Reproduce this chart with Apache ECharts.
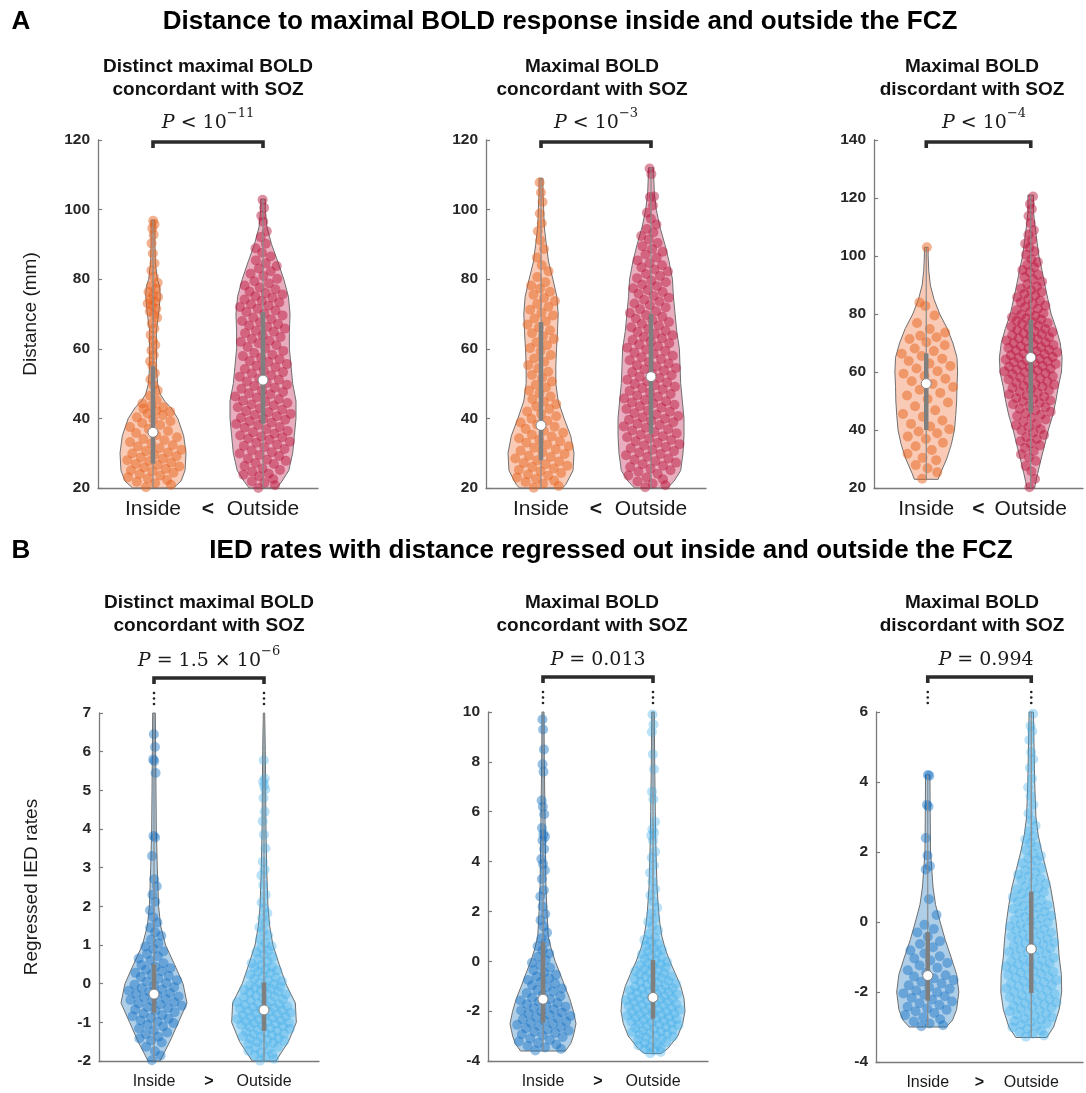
<!DOCTYPE html>
<html><head><meta charset="utf-8">
<script src="https://cdn.jsdelivr.net/npm/echarts/dist/echarts.min.js"></script>
<style>html,body{margin:0;padding:0;background:#fff}#c{width:1086px;height:1093px}</style>
</head><body><div id="c"></div>
<script>
// ---------------- DATA ----------------
const xCategories = ['Inside', 'Outside'];
const relationsA = '<';
const relationsB = '>';
const subTitles = ['Distinct maximal BOLD\nconcordant with SOZ', 'Maximal BOLD\nconcordant with SOZ', 'Maximal BOLD\ndiscordant with SOZ'];
const pLabels = ['{i|P}{n| < 10}{s|−11}', '{i|P}{n| < 10}{s|−3}', '{i|P}{n| < 10}{s|−4}',
                 '{i|P}{n| = 1.5 × 10}{s|−6}', '{i|P}{n| = 0.013}', '{i|P}{n| = 0.994}'];
const yTicksA1 = [20, 120, 20], yTicksA2 = [20, 120, 20], yTicksA3 = [20, 140, 20];
const yTicksB1 = [-2, 7, 1], yTicksB2 = [-4, 10, 2], yTicksB3 = [-4, 6, 2];

// violin outlines: value levels and relative density (half width)
const a1InY = [20, 22, 25, 30, 35, 40, 43, 45, 47, 50, 55, 60, 65, 70, 75, 78, 80, 85, 90, 97];
const a1InW = [0.62, 0.85, 0.97, 1.0, 0.93, 0.75, 0.55, 0.35, 0.22, 0.14, 0.1, 0.11, 0.1, 0.17, 0.22, 0.2, 0.13, 0.07, 0.06, 0.06];
const a1OutY = [20, 22, 25, 30, 35, 40, 45, 50, 55, 60, 65, 70, 75, 80, 85, 90, 95, 100, 103];
const a1OutW = [0.42, 0.58, 0.78, 0.9, 0.95, 1.0, 1.0, 0.9, 0.85, 0.8, 0.8, 0.82, 0.77, 0.63, 0.45, 0.26, 0.12, 0.07, 0.07];
const a2InY = [20, 21, 25, 30, 35, 40, 45, 50, 55, 60, 65, 70, 75, 80, 85, 90, 95, 100, 105, 109];
const a2InW = [0.65, 0.75, 0.97, 1.0, 0.9, 0.7, 0.52, 0.45, 0.45, 0.47, 0.5, 0.52, 0.48, 0.36, 0.23, 0.16, 0.1, 0.08, 0.06, 0.06];
const a2OutY = [20, 22, 25, 30, 35, 40, 45, 50, 55, 60, 65, 70, 75, 80, 85, 90, 95, 100, 105, 110, 112];
const a2OutW = [0.5, 0.7, 0.9, 0.97, 1.0, 1.0, 0.95, 0.9, 0.88, 0.86, 0.78, 0.73, 0.68, 0.65, 0.55, 0.42, 0.27, 0.16, 0.1, 0.08, 0.08];
const a3InY = [23, 25, 30, 35, 40, 45, 50, 55, 60, 65, 70, 75, 80, 85, 90, 95, 100, 103];
const a3InW = [0.38, 0.45, 0.65, 0.8, 0.9, 0.94, 0.97, 0.98, 1.0, 0.98, 0.85, 0.67, 0.43, 0.25, 0.13, 0.08, 0.06, 0.06];
const a3OutY = [20, 25, 30, 35, 40, 45, 50, 55, 60, 65, 70, 75, 80, 85, 90, 95, 100, 105, 110, 115, 121];
const a3OutW = [0.12, 0.22, 0.33, 0.45, 0.56, 0.7, 0.8, 0.88, 0.98, 1.0, 0.94, 0.81, 0.65, 0.55, 0.45, 0.36, 0.26, 0.2, 0.14, 0.09, 0.09];
const b1InY = [-2, -1.5, -1, -0.5, 0, 0.5, 1, 1.5, 2, 3, 4, 5, 6, 7];
const b1InW = [0.18, 0.48, 0.74, 1.0, 0.88, 0.62, 0.35, 0.2, 0.14, 0.1, 0.07, 0.06, 0.05, 0.04];
const b1OutY = [-2, -1.5, -1, -0.5, 0, 0.5, 1, 1.5, 2, 3, 4, 5, 6, 7];
const b1OutW = [0.36, 0.74, 0.98, 0.95, 0.66, 0.46, 0.27, 0.17, 0.12, 0.08, 0.06, 0.05, 0.04, 0.02];
const b2InY = [-3.6, -3.3, -3, -2.5, -2, -1.5, -1, -0.5, 0, 0.5, 1, 2, 3, 4, 5, 6, 8, 10];
const b2InW = [0.68, 0.84, 0.92, 1.0, 0.92, 0.81, 0.66, 0.52, 0.37, 0.25, 0.16, 0.12, 0.09, 0.08, 0.07, 0.06, 0.04, 0.03];
const b2OutY = [-3.7, -3.5, -3, -2.5, -2, -1.5, -1, -0.5, 0, 0.5, 1, 1.5, 2, 3, 4, 5, 6, 8, 10];
const b2OutW = [0.25, 0.45, 0.75, 0.9, 0.97, 0.94, 0.84, 0.68, 0.51, 0.37, 0.27, 0.21, 0.17, 0.12, 0.1, 0.08, 0.07, 0.05, 0.04];
const b3InY = [-3, -2.8, -2.5, -2, -1.5, -1, -0.5, 0, 0.5, 1, 1.5, 2, 3, 4.2];
const b3InW = [0.6, 0.8, 0.93, 1.0, 0.93, 0.75, 0.56, 0.4, 0.25, 0.17, 0.13, 0.09, 0.08, 0.07];
const b3OutY = [-3.3, -3, -2.5, -2, -1.5, -1, -0.5, 0, 0.5, 1, 1.5, 2, 2.5, 3, 4, 5, 6];
const b3OutW = [0.5, 0.72, 0.9, 0.98, 0.97, 0.9, 0.86, 0.8, 0.72, 0.62, 0.48, 0.34, 0.22, 0.15, 0.11, 0.09, 0.07];

// box summaries: [min, q1, median, q3, max]
const a1Box = [[20, 27, 36, 55, 97], [20, 38.5, 51, 70.5, 103]];
const a2Box = [[20, 28, 38, 67.7, 109], [20, 35.6, 52, 70, 112]];
const a3Box = [[23, 40, 56, 66.4, 103], [20, 46, 65, 78, 121]];
const b1Box = [[-2, -0.75, -0.27, 0.5, 7], [-2, -1.22, -0.68, 0.03, 7]];
const b2Box = [[-3.6, -2.46, -1.52, 0.77, 10], [-3.7, -2.3, -1.45, 0.05, 10]];
const b3Box = [[-3, -2.25, -1.53, -0.29, 4.2], [-3.3, -2.03, -0.77, 0.87, 6]];

const a1InPts = [20.2,20.9,21.4,21.8,22.3,22.7,23.1,23.6,24,24.4,24.8,25.1,25.5,25.9,26.2,26.6,26.9,27.3,27.7,28,28.4,28.8,29.1,29.5,29.9,30.2,30.6,31,31.4,31.9,32.3,32.8,33.2,33.7,34.1,34.6,35.2,35.8,36.4,37,37.5,38.1,38.7,39.2,39.8,40.3,40.9,41.4,41.9,42.3,42.8,43.2,43.6,44.3,45.2,46.5,48,49.6,51.2,53,55.1,56.4,58.2,59.5,61.1,62.4,64,65.8,67.2,68.9,69.8,70.7,71.5,72.3,73,73.6,74.2,74.9,75.5,76.3,77.2,78.1,79,80.7,82.5,84.6,87.4,90.3,92.8,94.6,95.8,96.8];
const a1OutPts = [20,20.8,21.5,21.9,22.6,23.4,23.8,24.1,24.7,25.2,25.6,26.3,26.9,27.2,27.8,28.1,28.4,29.2,29.5,29.9,30.3,30.8,31.2,31.7,32.1,32.5,33,33.3,33.9,34.2,34.6,34.8,35.1,35.6,36,36.4,36.9,37.3,37.5,38.1,38.4,38.8,39.2,39.6,39.9,40.2,40.6,41,41.3,41.8,42.1,42.5,42.9,43.2,43.7,44,44.4,44.8,45.1,45.5,46,46.3,46.9,47.2,47.6,48,48.5,48.8,49.3,49.7,50.2,50.6,51.1,51.5,52,52.4,52.9,53.3,53.8,54.2,54.7,55.1,55.6,56.2,56.5,57,57.4,57.9,58.3,58.8,59.4,60.1,60.5,61,61.6,62,62.3,62.9,63.4,63.8,64.5,64.9,65.2,65.8,66.3,66.7,67.1,67.6,68,68.5,69,69.6,70.1,70.6,71,71.5,72,72.4,72.8,73.3,73.8,74.2,74.7,75.1,75.6,76,76.5,77.1,77.6,78.2,78.8,79.4,80.1,80.9,81.6,82.3,83.1,83.8,84.6,85.4,86.5,87.6,88.9,90.2,92.1,93.8,96.5,98.2,100.5,102.8];
const a2InPts = [20.1,20.6,21.2,21.7,22.1,22.6,23,23.5,23.9,24.3,24.8,25.2,25.6,26,26.4,26.8,27.2,27.6,28,28.5,28.9,29.3,29.8,30.2,30.7,31.1,31.6,32,32.5,33,33.4,33.9,34.3,34.8,35.3,35.9,36.4,37,37.6,38.2,38.8,39.3,39.9,40.6,41.3,42,42.7,43.4,44.1,44.8,45.5,46.3,47.2,48,48.9,49.7,50.6,51.6,52.5,53.4,54.4,55.3,56.3,57.2,58.2,59.3,60.2,61,61.9,62.8,63.6,64.5,65.3,66.1,67,67.9,68.7,69.6,70.4,71.2,72.1,72.9,73.7,74.6,75.5,76.4,77.3,78.2,79.1,80.6,82.3,84,86.2,88.7,91.2,93.8,96.1,98.9,102.2,104.9,107.8];
const a2OutPts = [20.2,20.8,21.3,21.9,22.5,23,23.6,24.1,24.7,25.1,25.5,26,26.4,26.8,27.3,27.7,28.1,28.5,29,29.4,29.8,30.2,30.6,31,31.4,31.8,32.2,32.6,33,33.4,33.8,34.2,34.6,34.9,35.3,35.7,36.1,36.5,36.9,37.3,37.7,38.1,38.5,38.9,39.3,39.6,39.9,40.3,40.7,41.1,41.5,41.9,42.3,42.7,43.1,43.5,43.9,44.3,44.6,44.9,45.3,45.7,46.2,46.6,47,47.4,47.9,48.3,48.7,49.1,49.5,49.9,50.3,50.7,51.1,51.6,52,52.4,52.8,53.3,53.7,54.1,54.5,54.9,55.3,55.8,56.2,56.7,57.1,57.6,58,58.5,58.9,59.4,59.8,60.3,60.7,61.2,61.6,62.1,62.5,63,63.4,63.9,64.3,64.8,65.2,65.7,66.2,66.7,67.2,67.7,68.2,68.7,69.2,69.7,70.3,70.8,71.4,71.9,72.5,73,73.6,74.1,74.7,75.2,75.8,76.3,76.9,77.4,78,78.5,79.1,79.6,80.3,80.9,81.5,82.2,82.8,83.4,84,84.6,85.4,86.2,87.1,87.9,88.7,89.5,90.4,91.4,92.4,93.4,94.4,95.7,97.4,99.1,101.2,103.6,103.8,110.2,111.8];
const a3InPts = [23.2,25.4,26.8,27.9,29.6,30.4,31.8,33.1,34.4,35.6,36.9,37.8,38.9,39.5,40.3,41.2,42.1,43.3,44.6,45.5,46.8,48.2,49.5,50.7,51.9,52.8,53.9,54.8,55.9,56.8,57.7,58.6,59.4,60.3,61.2,62.1,62.9,63.8,64.6,65.5,66.3,67.2,68.1,69.2,70.3,71.4,72,72.5,73.6,74.8,76.9,79.5,82.8,84,103];
const a3OutPts = [20.3,23.1,25.8,27.6,29.3,30.5,31.6,32.7,33.8,34.7,35.4,36.1,36.9,37.6,38.3,39.1,39.8,40.3,41,41.6,42.2,42.9,43.6,44.2,44.8,45.3,45.8,46.3,46.8,47.3,47.9,48.4,48.9,49.4,49.9,50.2,50.6,51,51.5,51.9,52.3,52.8,53.2,53.6,54.1,54.5,54.9,55.2,55.6,55.9,56.3,56.7,57,57.4,57.8,58.1,58.5,58.9,59.2,59.6,59.9,60.2,60.5,60.8,61.1,61.5,61.8,62.1,62.4,62.8,63.1,63.4,63.7,64,64.3,64.6,64.9,65.2,65.5,65.8,66.1,66.4,66.8,67.1,67.4,67.7,68,68.3,68.6,68.9,69.3,69.6,69.9,70.2,70.6,70.9,71.3,71.6,72,72.3,72.7,73,73.4,73.8,74.1,74.5,74.8,75.2,75.6,76,76.5,76.9,77.3,77.7,78.1,78.5,78.9,79.3,79.7,80.2,80.7,81.3,81.8,82.4,82.9,83.5,84,84.6,85.2,85.8,86.4,87,87.6,88.2,88.8,89.5,90.3,91.1,91.9,92.7,93.5,94.4,95.2,96.1,97,97.9,98.9,100.4,101.6,102.9,104.2,105.6,107.3,108.9,111.4,113.8,116.2,117.9,120.5];
const b1InPts = [-1.98,-1.86,-1.75,-1.63,-1.52,-1.47,-1.42,-1.37,-1.31,-1.26,-1.21,-1.16,-1.11,-1.06,-1.02,-0.98,-0.95,-0.91,-0.88,-0.84,-0.81,-0.77,-0.74,-0.7,-0.67,-0.63,-0.6,-0.57,-0.54,-0.51,-0.48,-0.45,-0.42,-0.39,-0.36,-0.33,-0.3,-0.27,-0.24,-0.21,-0.18,-0.15,-0.12,-0.09,-0.06,-0.03,0.01,0.05,0.09,0.13,0.17,0.2,0.24,0.28,0.32,0.36,0.4,0.44,0.48,0.53,0.59,0.65,0.71,0.77,0.83,0.9,0.96,1.04,1.14,1.24,1.33,1.45,1.58,1.72,1.9,2.12,2.3,2.52,2.7,3.3,3.78,3.82,5.45,5.76,5.8,6.12,6.45];
const b1OutPts = [-1.99,-1.94,-1.9,-1.85,-1.82,-1.78,-1.74,-1.7,-1.66,-1.63,-1.59,-1.56,-1.53,-1.51,-1.48,-1.46,-1.43,-1.41,-1.38,-1.36,-1.33,-1.31,-1.29,-1.26,-1.24,-1.22,-1.19,-1.17,-1.15,-1.12,-1.1,-1.08,-1.06,-1.04,-1.02,-1.01,-0.99,-0.97,-0.95,-0.93,-0.91,-0.89,-0.87,-0.85,-0.83,-0.81,-0.79,-0.77,-0.75,-0.73,-0.71,-0.69,-0.67,-0.65,-0.63,-0.61,-0.59,-0.57,-0.55,-0.53,-0.51,-0.48,-0.46,-0.43,-0.41,-0.38,-0.36,-0.33,-0.31,-0.28,-0.26,-0.23,-0.21,-0.18,-0.16,-0.13,-0.11,-0.08,-0.06,-0.04,-0.01,0.02,0.06,0.09,0.13,0.16,0.2,0.23,0.27,0.3,0.34,0.37,0.41,0.44,0.48,0.53,0.58,0.64,0.69,0.75,0.81,0.86,0.92,0.97,1.05,1.15,1.25,1.36,1.46,1.58,1.7,1.82,1.95,2.1,2.3,2.55,2.8,2.95,3.15,3.5,3.85,4.2,4.45,4.8,5.02,5.12,5.22,5.3,5.78];
const b2InPts = [-3.58,-3.52,-3.46,-3.4,-3.34,-3.28,-3.22,-3.16,-3.1,-3.04,-2.98,-2.93,-2.88,-2.83,-2.79,-2.74,-2.69,-2.64,-2.6,-2.55,-2.51,-2.47,-2.42,-2.38,-2.33,-2.28,-2.24,-2.19,-2.14,-2.1,-2.05,-2.01,-1.97,-1.92,-1.87,-1.82,-1.77,-1.72,-1.67,-1.62,-1.57,-1.52,-1.46,-1.4,-1.33,-1.27,-1.21,-1.15,-1.09,-1.03,-0.96,-0.89,-0.82,-0.75,-0.68,-0.61,-0.54,-0.45,-0.36,-0.26,-0.16,-0.06,0.05,0.18,0.31,0.44,0.6,0.75,0.92,1.15,1.4,1.65,1.9,2.2,2.6,2.85,3.3,3.65,3.9,4.1,4.5,4.85,5,5.1,5.35,5.9,6.2,6.45,7.6,7.9,8.5,9.3,9.7];
const b2OutPts = [-3.69,-3.64,-3.58,-3.53,-3.47,-3.43,-3.38,-3.34,-3.29,-3.24,-3.2,-3.15,-3.11,-3.06,-3.02,-2.98,-2.95,-2.91,-2.88,-2.84,-2.81,-2.78,-2.74,-2.71,-2.67,-2.64,-2.6,-2.57,-2.54,-2.51,-2.48,-2.45,-2.42,-2.39,-2.36,-2.33,-2.3,-2.27,-2.24,-2.21,-2.18,-2.15,-2.12,-2.09,-2.06,-2.03,-2.01,-1.98,-1.95,-1.92,-1.89,-1.86,-1.83,-1.8,-1.77,-1.74,-1.71,-1.68,-1.65,-1.62,-1.59,-1.56,-1.53,-1.51,-1.48,-1.45,-1.42,-1.39,-1.35,-1.32,-1.29,-1.26,-1.23,-1.2,-1.17,-1.14,-1.11,-1.08,-1.05,-1.02,-0.98,-0.94,-0.9,-0.86,-0.83,-0.79,-0.75,-0.71,-0.67,-0.63,-0.6,-0.56,-0.52,-0.48,-0.43,-0.39,-0.34,-0.3,-0.25,-0.21,-0.16,-0.12,-0.07,-0.03,0.03,0.09,0.15,0.21,0.28,0.34,0.4,0.46,0.54,0.62,0.7,0.78,0.86,0.95,1.08,1.25,1.42,1.58,1.75,1.92,2.15,2.4,2.65,2.9,3.2,3.55,3.85,4.15,4.4,4.85,5.05,5.15,5.3,5.6,6.5,6.8,7.7,8.3,9.2,9.5,9.9];
const b3InPts = [-2.98,-2.95,-2.9,-2.84,-2.78,-2.72,-2.66,-2.6,-2.55,-2.51,-2.47,-2.42,-2.37,-2.32,-2.27,-2.22,-2.17,-2.12,-2.08,-2.04,-2.01,-1.96,-1.91,-1.86,-1.81,-1.76,-1.71,-1.66,-1.61,-1.56,-1.52,-1.45,-1.38,-1.31,-1.24,-1.17,-1.1,-1.04,-0.98,-0.9,-0.81,-0.72,-0.63,-0.55,-0.42,-0.3,-0.2,-0.08,0.2,0.65,1.5,1.6,1.9,2.4,3.3,3.35,4.18,4.2];
const b3OutPts = [-3.28,-3.24,-3.19,-3.14,-3.1,-3.05,-3.01,-2.97,-2.93,-2.9,-2.86,-2.83,-2.79,-2.76,-2.72,-2.69,-2.65,-2.62,-2.58,-2.55,-2.52,-2.48,-2.45,-2.42,-2.39,-2.36,-2.33,-2.3,-2.27,-2.24,-2.21,-2.18,-2.15,-2.12,-2.09,-2.06,-2.02,-1.99,-1.96,-1.93,-1.9,-1.87,-1.84,-1.81,-1.78,-1.75,-1.72,-1.69,-1.66,-1.63,-1.6,-1.57,-1.54,-1.51,-1.48,-1.45,-1.42,-1.39,-1.36,-1.33,-1.3,-1.27,-1.24,-1.21,-1.18,-1.15,-1.12,-1.09,-1.06,-1.02,-0.98,-0.95,-0.91,-0.88,-0.85,-0.81,-0.78,-0.75,-0.71,-0.68,-0.64,-0.61,-0.58,-0.54,-0.51,-0.48,-0.44,-0.41,-0.37,-0.34,-0.3,-0.27,-0.23,-0.2,-0.16,-0.13,-0.09,-0.06,-0.02,0.02,0.06,0.1,0.14,0.18,0.21,0.25,0.29,0.33,0.37,0.41,0.45,0.48,0.53,0.58,0.62,0.67,0.71,0.76,0.8,0.85,0.89,0.94,0.98,1.03,1.09,1.14,1.2,1.25,1.31,1.36,1.42,1.47,1.54,1.61,1.68,1.75,1.82,1.89,1.96,2.06,2.16,2.26,2.36,2.46,2.6,2.75,2.9,3.1,3.35,3.6,3.85,4.1,4.4,4.65,4.85,5.2,5.45,5.6,5.95];

// ---------------- LAYOUT / STYLE ----------------
const SANS = '"Liberation Sans", Arial, sans-serif';
const SERIF = '"DejaVu Serif", "Liberation Serif", serif';
const HW = 0.3;
const styleA = {inDot: 'rgba(230,98,28,0.62)', inFill: 'rgba(241,140,95,0.45)', outDot: 'rgba(184,16,56,0.58)', outFill: 'rgba(200,60,100,0.42)'};
const styleB = {inDot: 'rgba(16,110,194,0.55)', inFill: 'rgba(65,140,202,0.42)', outDot: 'rgba(62,172,232,0.45)', outFill: 'rgba(85,180,232,0.45)'};

const panels = [
  {grid: {left: 98, top: 140, width: 220, height: 348}, yt: yTicksA1, kind: 'A', name: 'Distance (mm)', v: [a1InY, a1InW, a1OutY, a1OutW], pts: [a1InPts, a1OutPts], box: a1Box, titleX: 208},
  {grid: {left: 486, top: 140, width: 220, height: 348}, yt: yTicksA2, kind: 'A', name: '', v: [a2InY, a2InW, a2OutY, a2OutW], pts: [a2InPts, a2OutPts], box: a2Box, titleX: 592},
  {grid: {left: 874, top: 140, width: 220, height: 348}, yt: yTicksA3, kind: 'A', name: '', v: [a3InY, a3InW, a3OutY, a3OutW], pts: [a3InPts, a3OutPts], box: a3Box, titleX: 972},
  {grid: {left: 99, top: 713, width: 220, height: 348}, yt: yTicksB1, kind: 'B', name: 'Regressed IED rates', v: [b1InY, b1InW, b1OutY, b1OutW], pts: [b1InPts, b1OutPts], box: b1Box, titleX: 209},
  {grid: {left: 488, top: 712, width: 220, height: 349}, yt: yTicksB2, kind: 'B', name: '', v: [b2InY, b2InW, b2OutY, b2OutW], pts: [b2InPts, b2OutPts], box: b2Box, titleX: 592},
  {grid: {left: 876, top: 712, width: 220, height: 350}, yt: yTicksB3, kind: 'B', name: '', v: [b3InY, b3InW, b3OutY, b3OutW], pts: [b3InPts, b3OutPts], box: b3Box, titleX: 972}
];

function halfAt(ys, ws, val) {
  if (val <= ys[0]) return ws[0];
  for (let i = 1; i < ys.length; i++) {
    if (val <= ys[i]) { const t = (val - ys[i - 1]) / (ys[i] - ys[i - 1]); return ws[i - 1] + t * (ws[i] - ws[i - 1]); }
  }
  return ws[ws.length - 1];
}
function jitterPoints(pts, ys, ws, c, ymax) {
  // deterministic spread across the violin width (golden-ratio sequence)
  return pts.filter(v => v <= ymax).map((v, i) => {
    const u = 2 * ((i * 0.6180339887 + 0.31) % 1) - 1;
    return [c + u * 0.88 * HW * halfAt(ys, ws, v), v];
  });
}

const grids = [], xAxes = [], yAxes = [], series = [], graphics = [];
panels.forEach((p, k) => {
  const isA = p.kind === 'A';
  const st = isA ? styleA : styleB;
  const rel = isA ? relationsA : relationsB;
  grids.push(Object.assign({containLabel: false}, p.grid));
  xAxes.push({
    gridIndex: k, type: 'value', min: 0.5, max: 2.5, interval: 0.5,
    axisLine: {show: true, onZero: false, lineStyle: {color: '#7a7a7a', width: 1.3}},
    axisTick: {show: false}, splitLine: {show: false},
    axisLabel: {
      show: true, showMinLabel: true, showMaxLabel: true, hideOverlap: false,
      margin: isA ? 11 : 13, fontFamily: SANS, fontSize: isA ? 21 : 16, color: '#1a1a1a',
      formatter: v => v === 1 ? xCategories[0] : v === 2 ? xCategories[1] : v === 1.5 ? '{r|' + rel + '}' : '',
      rich: {r: {fontFamily: SANS, fontWeight: 'bold', fontSize: isA ? 21 : 16, color: '#1a1a1a'}}
    }
  });
  yAxes.push({
    gridIndex: k, type: 'value', min: p.yt[0], max: p.yt[1], interval: p.yt[2],
    axisLine: {show: true, onZero: false, lineStyle: {color: '#7a7a7a', width: 1.3}},
    axisTick: {show: true, inside: true, length: 4, lineStyle: {color: '#7a7a7a', width: 1.2}},
    splitLine: {show: false},
    axisLabel: {margin: 8, fontFamily: SANS, fontWeight: 'bold', fontSize: 15.5, color: '#262626', hideOverlap: false},
    name: p.name, nameLocation: 'middle', nameGap: 58, nameRotate: 90,
    nameTextStyle: {fontFamily: SANS, fontSize: 19, color: '#1a1a1a'}
  });
  const [inY, inW, outY, outW] = p.v;
  const ymax = p.yt[1];
  [[1, inY, inW, st.inFill], [2, outY, outW, st.outFill]].forEach(([c, ys, ws, fill]) => {
    series.push({
      type: 'custom', xAxisIndex: k, yAxisIndex: k, silent: true, z: 1,
      data: [[c, ys[0]]],
      renderItem: (params, api) => {
        const pts = [];
        for (let i = 0; i < ys.length; i++) pts.push(api.coord([c + ws[i] * HW, ys[i]]));
        for (let i = ys.length - 1; i >= 0; i--) pts.push(api.coord([c - ws[i] * HW, ys[i]]));
        return {type: 'polygon', shape: {points: pts}, style: {fill: fill, stroke: '#6f6f6f', lineWidth: 1}};
      }
    });
  });
  series.push({type: 'scatter', xAxisIndex: k, yAxisIndex: k, silent: true, z: 2, symbolSize: 10,
    itemStyle: {color: st.inDot}, data: jitterPoints(p.pts[0], inY, inW, 1, ymax)});
  series.push({type: 'scatter', xAxisIndex: k, yAxisIndex: k, silent: true, z: 2, symbolSize: 10,
    itemStyle: {color: st.outDot}, data: jitterPoints(p.pts[1], outY, outW, 2, ymax)});
  // box: whisker line, IQR bar, median dot
  series.push({
    type: 'custom', xAxisIndex: k, yAxisIndex: k, silent: true, z: 3,
    data: [[1, p.box[0][2]], [2, p.box[1][2]]],
    renderItem: (params, api) => {
      const c = params.dataIndex + 1;
      const b = p.box[params.dataIndex];
      const pMin = api.coord([c, Math.max(b[0], p.yt[0])]), pMax = api.coord([c, Math.min(b[4], ymax)]);
      const pQ1 = api.coord([c, b[1]]), pQ3 = api.coord([c, b[3]]), pMed = api.coord([c, b[2]]);
      return {type: 'group', children: [
        {type: 'line', shape: {x1: pMin[0], y1: pMin[1], x2: pMax[0], y2: pMax[1]}, style: {stroke: '#8a8a8a', lineWidth: 1.2}},
        {type: 'line', shape: {x1: pQ1[0], y1: pQ1[1], x2: pQ3[0], y2: pQ3[1]}, style: {stroke: '#7f7f7f', lineWidth: 4.5}},
        {type: 'circle', shape: {cx: pMed[0], cy: pMed[1], r: 5}, style: {fill: '#ffffff', stroke: '#808080', lineWidth: 1}}
      ]};
    }
  });
  // significance bracket
  series.push({
    type: 'custom', xAxisIndex: k, yAxisIndex: k, silent: true, z: 4, clip: false,
    data: [[1.5, ymax]],
    renderItem: (params, api) => {
      const a = api.coord([1, ymax]), b = api.coord([2, ymax]);
      const yb = isA ? a[1] + 2 : a[1] - 35;
      const leg = 6;
      const children = [{type: 'polyline', shape: {points: [[a[0], yb + leg], [a[0], yb], [b[0], yb], [b[0], yb + leg]]},
        style: {stroke: '#2b2b2b', lineWidth: 3.6, fill: null, lineJoin: 'miter', lineCap: 'butt'}}];
      if (!isA) {
        [a[0], b[0]].forEach(x => [-20, -14.5, -9].forEach(dy => children.push(
          {type: 'circle', shape: {cx: x, cy: a[1] + dy, r: 1.3}, style: {fill: '#222'}})));
      }
      return {type: 'group', children: children};
    }
  });
  // subtitle and P label
  const ty = isA ? 78 : 614.5;
  graphics.push({type: 'text', x: p.titleX, y: ty, style: {text: subTitles[k % 3], font: 'bold 19px ' + SANS, fill: '#111',
    align: 'center', verticalAlign: 'middle', textAlign: 'center', textVerticalAlign: 'middle', lineHeight: 23}});
  const cx = p.grid.left + p.grid.width * 0.5;
  graphics.push({type: 'text', x: cx, y: p.grid.top + (isA ? -20 : -55), style: {
    text: pLabels[k], align: 'center', verticalAlign: 'middle', textAlign: 'center', textVerticalAlign: 'middle',
    rich: {
      i: {fontFamily: SERIF, fontStyle: 'italic', fontSize: 19, lineHeight: 26, fill: '#1a1a1a', verticalAlign: 'bottom'},
      n: {fontFamily: SERIF, fontSize: 19, lineHeight: 26, fill: '#1a1a1a', verticalAlign: 'bottom'},
      s: {fontFamily: SERIF, fontSize: 13, lineHeight: 14, fill: '#1a1a1a', verticalAlign: 'top'}
    }}});
});

const TITLE_FONT = 'bold 26px ' + SANS;
graphics.push({type: 'text', x: 21, y: 22, style: {text: 'A', font: TITLE_FONT, fill: '#000', align: 'center', verticalAlign: 'middle', textAlign: 'center', textVerticalAlign: 'middle'}});
graphics.push({type: 'text', x: 560, y: 22, style: {text: 'Distance to maximal BOLD response inside and outside the FCZ', font: TITLE_FONT, fill: '#000', align: 'center', verticalAlign: 'middle', textAlign: 'center', textVerticalAlign: 'middle'}});
graphics.push({type: 'text', x: 21, y: 551, style: {text: 'B', font: TITLE_FONT, fill: '#000', align: 'center', verticalAlign: 'middle', textAlign: 'center', textVerticalAlign: 'middle'}});
graphics.push({type: 'text', x: 611, y: 551, style: {text: 'IED rates with distance regressed out inside and outside the FCZ', font: TITLE_FONT, fill: '#000', align: 'center', verticalAlign: 'middle', textAlign: 'center', textVerticalAlign: 'middle'}});

const chart = echarts.init(document.getElementById('c'), null, {renderer: 'canvas'});
chart.setOption({
  animation: false, backgroundColor: '#ffffff',
  grid: grids, xAxis: xAxes, yAxis: yAxes, series: series, graphic: {elements: graphics}
});
</script></body></html>
